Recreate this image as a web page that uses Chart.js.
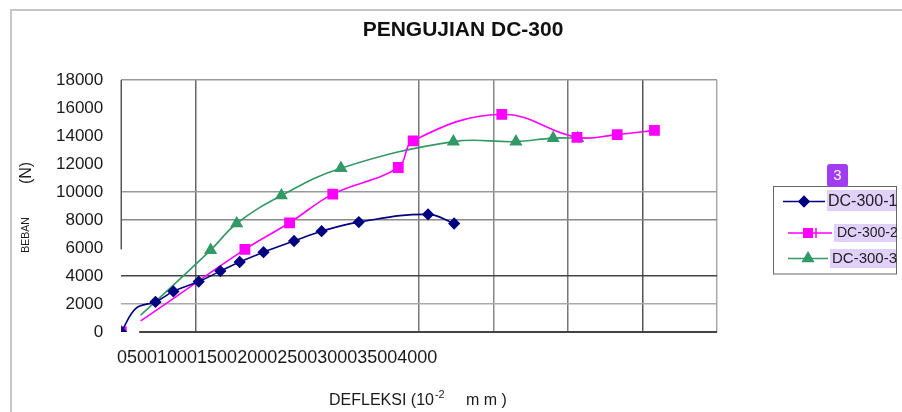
<!DOCTYPE html>
<html>
<head>
<meta charset="utf-8">
<script src="https://cdn.jsdelivr.net/npm/chart.js@4"></script>
<style>
  html, body { margin: 0; padding: 0; background: #fff; }
  #wrap { position: relative; width: 902px; height: 412px; }
  #frame { position: absolute; left: 10px; top: 9px; right: 0; bottom: 0;
           border-left: 2px solid #c6c6c6; border-top: 2px solid #c6c6c6; pointer-events: none; }
</style>
</head>
<body>
<div id="wrap">
  <canvas id="chartDC" width="902" height="412"></canvas>
  <div id="frame"></div>
</div>
<script>
// deflection (10^-2 mm) and load (N)
const dc1X = [0, 100, 230, 350, 520, 665, 795, 955, 1160, 1345, 1595, 2060, 2235];
const dc1Y = [0, 1700, 2150, 2900, 3600, 4350, 5000, 5700, 6500, 7200, 7850, 8400, 7750];

const dc2X = [0, 130, 830, 1130, 1420, 1860, 1960, 2555, 3060, 3330, 3580];
const dc2Y = [0, 800, 5900, 7800, 9850, 11750, 13650, 15550, 13900, 14100, 14400];

const dc3X = [0, 130, 600, 775, 1075, 1475, 2230, 2650, 2900, 3065];
const dc3Y = [0, 1200, 5850, 7750, 9750, 11700, 13600, 13600, 13850, 13850];

const seriesNames = ['DC-300-1', 'DC-300-2', 'DC-300-3'];
const xTickText = '05001000150020002500300035004000';

const FONT = "'Liberation Sans', Arial, sans-serif";
const NAVY = '#000080', MAG = '#ff00ff', GREEN = '#339966';

function pts(xs, ys) {
    return xs.map((x, i) => ({ x, y: ys[i] }));
}

function ds(label, xs, ys, color, style, r, hideFirst) {
    return {
        label,
        data: pts(xs, ys),
        borderColor: color,
        backgroundColor: color,
        pointBackgroundColor: color,
        pointBorderColor: color,
        pointStyle: style,
        pointRadius: ctx => ctx.dataIndex === 1 ? 0 : r,
        borderWidth: 1.6,
        tension: 0.4,
        segment: hideFirst ? { borderColor: c => c.p0DataIndex === 0 ? 'rgba(0,0,0,0)' : undefined } : undefined
    };
}

const yGrid = { 18000: '#999', 10000: '#999', 8000: '#888', 4000: '#444', 2000: '#aaa' };
const xGrid = { 500: '#666', 2000: '#777', 2500: '#888', 3000: '#777', 3500: '#555', 4000: '#aaa' };

const decor = {
    id: 'decor',
    beforeDatasetsDraw(chart) {
        const { ctx, scales: { x, y } } = chart;
        ctx.save();
        ctx.strokeStyle = '#555';
        ctx.lineWidth = 1.5;
        ctx.beginPath();
        ctx.moveTo(x.getPixelForValue(0), y.getPixelForValue(18000));
        ctx.lineTo(x.getPixelForValue(0), y.getPixelForValue(5900));
        ctx.stroke();
        ctx.strokeStyle = '#444';
        ctx.lineWidth = 2;
        ctx.beginPath();
        ctx.moveTo(x.getPixelForValue(120), y.getPixelForValue(0));
        ctx.lineTo(x.getPixelForValue(4000), y.getPixelForValue(0));
        ctx.stroke();
        ctx.restore();
    },
    afterDraw(chart) {
        const ctx = chart.ctx;
        ctx.save();
        ctx.fillStyle = '#111';
        ctx.textBaseline = 'middle';

        // title
        ctx.font = 'bold 21px ' + FONT;
        ctx.textAlign = 'center';
        ctx.fillText('PENGUJIAN DC-300', 463, 30);

        // x tick text (crammed as in the original)
        ctx.font = '18px ' + FONT;
        ctx.textAlign = 'left';
        ctx.fillStyle = '#1a1a1a';
        ctx.fillText(xTickText, 117, 358);

        // x axis title with superscript
        ctx.font = '16px ' + FONT;
        let t = 'DEFLEKSI (10';
        ctx.fillText(t, 329, 401);
        let w = ctx.measureText(t).width;
        ctx.font = '11px ' + FONT;
        ctx.fillText('-2', 329 + w + 1, 395);
        ctx.font = '16px ' + FONT;
        ctx.fillText('m m )', 466, 401);

        // y axis title
        ctx.save();
        ctx.translate(27, 173);
        ctx.rotate(-Math.PI / 2);
        ctx.textAlign = 'center';
        ctx.font = '16px ' + FONT;
        ctx.fillText('(N)', 0, 0);
        ctx.restore();
        ctx.save();
        ctx.translate(26, 235);
        ctx.rotate(-Math.PI / 2);
        ctx.textAlign = 'center';
        ctx.font = '10.5px ' + FONT;
        ctx.fillText('BEBAN', 0, 0);
        ctx.restore();

        // legend
        ctx.strokeStyle = '#666';
        ctx.lineWidth = 1;
        ctx.strokeRect(773.5, 186.5, 123, 87.5);
        const rows = [
            { y: 201.5, x0: 783, x1: 825, mx: 804, tx: 828, hl: [827, 190, 69, 21], fs: 16, color: NAVY, style: 'rectRot', r: 5 },
            { y: 233, x0: 788, x1: 832, mx: 808, tx: 837, hl: [834, 224, 62, 18], fs: 14, color: MAG, style: 'rect', r: 6 },
            { y: 258.5, x0: 788, x1: 828, mx: 808, tx: 832, hl: [830, 249, 66, 19], fs: 15, color: GREEN, style: 'triangle', r: 6 }
        ];
        rows.forEach((row, i) => {
            ctx.fillStyle = 'rgba(200,170,245,0.55)';
            ctx.fillRect(...row.hl);
            ctx.strokeStyle = row.color;
            ctx.lineWidth = 1.6;
            ctx.beginPath();
            ctx.moveTo(row.x0, row.y);
            ctx.lineTo(row.x1, row.y);
            ctx.stroke();
            ctx.fillStyle = row.color;
            Chart.helpers.drawPoint(ctx, { pointStyle: row.style, radius: row.r, borderWidth: 1 }, row.mx, row.y);
            ctx.fillStyle = '#222';
            ctx.font = row.fs + 'px ' + FONT;
            ctx.textAlign = 'left';
            ctx.fillText(seriesNames[i], row.tx, row.y);
        });
        // tick on the magenta legend line
        ctx.strokeStyle = MAG;
        ctx.lineWidth = 1.5;
        ctx.beginPath();
        ctx.moveTo(816, 228);
        ctx.lineTo(816, 238);
        ctx.stroke();

        // badge
        ctx.fillStyle = '#a03cf2';
        ctx.beginPath();
        ctx.roundRect(827, 164, 21, 23, 3);
        ctx.fill();
        ctx.fillStyle = '#fff';
        ctx.font = '15px ' + FONT;
        ctx.textAlign = 'center';
        ctx.fillText('3', 837.5, 176);
        ctx.restore();
    }
};

new Chart(document.getElementById('chartDC'), {
    type: 'line',
    data: {
        datasets: [
            ds(seriesNames[0], dc1X, dc1Y, NAVY, 'rectRot', 5, false),
            ds(seriesNames[1], dc2X, dc2Y, MAG, 'rect', 6.5, true),
            ds(seriesNames[2], dc3X, dc3Y, GREEN, 'triangle', 6, true)
        ]
    },
    options: {
        responsive: false,
        animation: false,
        layout: { padding: { top: 80, left: 38, right: 185, bottom: 80 } },
        plugins: { legend: { display: false }, title: { display: false }, tooltip: { enabled: false } },
        scales: {
            x: {
                type: 'linear',
                min: 0, max: 4000,
                border: { display: false },
                grid: {
                    drawTicks: false,
                    lineWidth: 1.5,
                    color: c => xGrid[c.tick.value] || 'rgba(0,0,0,0)'
                },
                ticks: { stepSize: 500, display: false }
            },
            y: {
                min: 0, max: 18000,
                border: { display: false },
                grid: {
                    drawTicks: false,
                    lineWidth: 1.5,
                    color: c => yGrid[c.tick.value] || 'rgba(0,0,0,0)'
                },
                ticks: {
                    stepSize: 2000,
                    padding: 18,
                    color: '#1a1a1a',
                    font: { family: FONT, size: 17 },
                    callback: v => String(v)
                }
            }
        }
    },
    plugins: [decor]
});
</script>
</body>
</html>
